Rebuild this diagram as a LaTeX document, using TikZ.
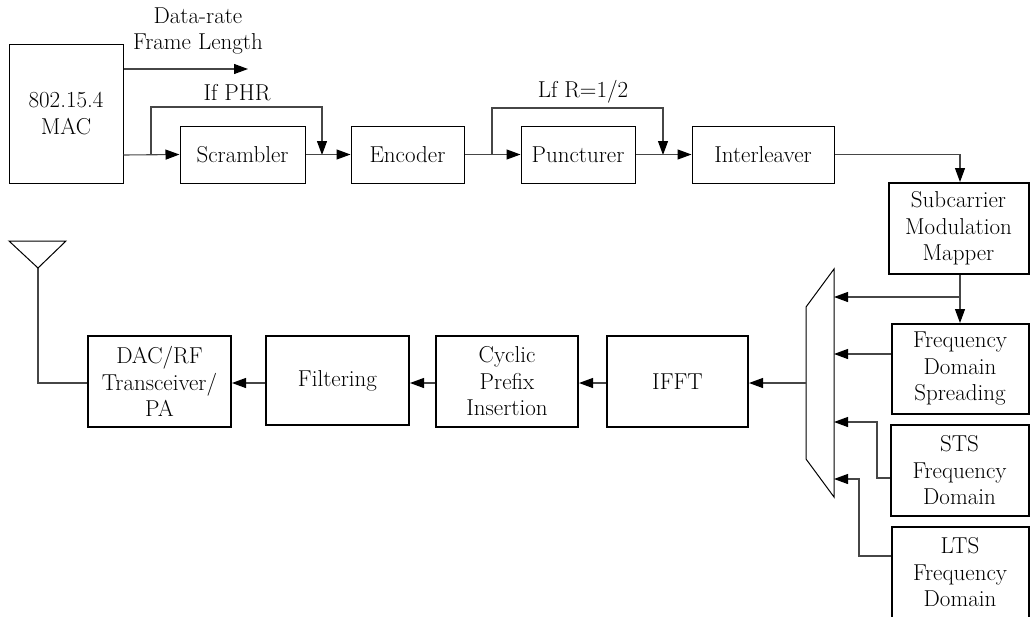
\documentclass[tikz,border=0pt]{standalone}
\usetikzlibrary{arrows.meta}
\definecolor{wire}{RGB}{70,70,70}
\tikzset{
  txt/.style={font=\fontsize{23}{26.5}\selectfont},
  thinbox/.style={txt, draw=black, line width=1pt, align=center, inner sep=0pt},
  thickbox/.style={txt, draw=black, line width=2pt, align=center, inner sep=0pt},
  lbl/.style={txt, align=center, inner sep=0pt},
  wireline/.style={draw=wire, line width=1.1pt},
  arr/.style={wireline, -{Triangle[length=14pt,width=10pt,color=black]}},
}
\begin{document}
\begin{tikzpicture}[x=1pt,y=-1pt]
\useasboundingbox (0,0) rectangle (1030,616);
\clip (0,0) rectangle (1030,616);
% top row
\node[thinbox, minimum width=114pt, minimum height=139pt] (mac) at (66,113.5) {802.15.4\\MAC};
\node[thinbox, minimum width=125pt, minimum height=57pt] (scr) at (242.5,154.5) {Scrambler};
\node[thinbox, minimum width=113pt, minimum height=57pt] (enc) at (407.5,154.5) {Encoder};
\node[thinbox, minimum width=114pt, minimum height=57pt] (pun) at (578,154.5) {Puncturer};
\node[thinbox, minimum width=142pt, minimum height=57pt] (int) at (763,154.5) {Interleaver};
% right column
\node[thickbox, minimum width=140pt, minimum height=91pt] (map) at (958.5,228.5) {Subcarrier\\Modulation\\Mapper};
\node[thickbox, minimum width=137pt, minimum height=90pt] (fds) at (960,369) {Frequency\\Domain\\Spreading};
\node[thickbox, minimum width=138pt, minimum height=91pt] (sts) at (959.5,470.5) {STS\\Frequency\\Domain};
\node[thickbox, minimum width=137pt, minimum height=91pt] (lts) at (960,572.5) {LTS\\Frequency\\Domain};
% bottom row
\node[thickbox, minimum width=141pt, minimum height=91pt] (ifft) at (677.5,381.5) {IFFT};
\node[thickbox, minimum width=142pt, minimum height=91pt] (cp) at (507,381.5) {Cyclic\\Prefix\\Insertion};
\node[thickbox, minimum width=143pt, minimum height=89pt] (flt) at (337.5,380.5) {Filtering};
\node[thickbox, minimum width=143pt, minimum height=91pt] (dac) at (159.5,381.5) {DAC/RF\\Transceiver/\\PA};
% labels
\node[lbl] (lblrate) at (198,31) {Data-rate\\Frame Length};
\node[lbl] (lblphr) at (237,93) {If PHR};
\node[lbl] (lblr) at (583,92) {Lf R=1/2};
% coordinates
\coordinate (rateend) at (248,69);
\coordinate (j1) at (151,155);
\coordinate (m1) at (322,155);
\coordinate (j2) at (492,155);
\coordinate (m2) at (663,155);
\coordinate (jm) at (960,297);
% mux
\coordinate (muxtr) at (834,269);
\coordinate (muxtl) at (806,307);
\coordinate (muxbl) at (806,459);
\coordinate (muxbr) at (834,497);
\coordinate (muxout) at (806,383);
\coordinate (in1) at (834,297);
\coordinate (in2) at (834,354);
\coordinate (in3) at (834,422);
\coordinate (in4) at (834,479);
\draw[line width=1pt] (muxtr) -- (muxtl) -- (muxbl) -- (muxbr) -- cycle;
% top connectors
\draw[arr] (mac.east |- rateend) -- (rateend);
\draw[arr] (mac.east |- j1) -- (scr.west);
\draw[arr] (j1) -- (151,107) -- (322,107) -- (m1);
\draw[arr] (scr.east) -- (enc.west);
\draw[arr] (enc.east) -- (pun.west);
\draw[arr] (j2) -- (492,108) -- (663,108) -- (m2);
\draw[arr] (pun.east) -- (int.west);
\draw[arr] (int.east) -| (map.north -| jm);
% right column connectors
\draw[arr] (map.south -| jm) -- (fds.north -| jm);
\draw[arr] (jm) -- (in1);
\draw[arr] (fds.west |- in2) -- (in2);
\draw[arr] (sts.west |- 0,478) -- (877,478) -- (877,422) -- (in3);
\draw[arr] (lts.west |- 0,556) -- (859,556) -- (859,479) -- (in4);
% bottom row connectors
\draw[arr] (muxout) -- (ifft.east |- muxout);
\draw[arr] (ifft.west |- muxout) -- (cp.east |- muxout);
\draw[arr] (cp.west |- muxout) -- (flt.east |- muxout);
\draw[arr] (flt.west |- muxout) -- (dac.east |- muxout);
% antenna
\coordinate (ant) at (38,268);
\draw[wireline] (dac.west |- muxout) -- (38,383) -- (ant);
\draw[line width=1pt] (9,241) -- (66,241) -- (ant) -- cycle;
\end{tikzpicture}
\end{document}
